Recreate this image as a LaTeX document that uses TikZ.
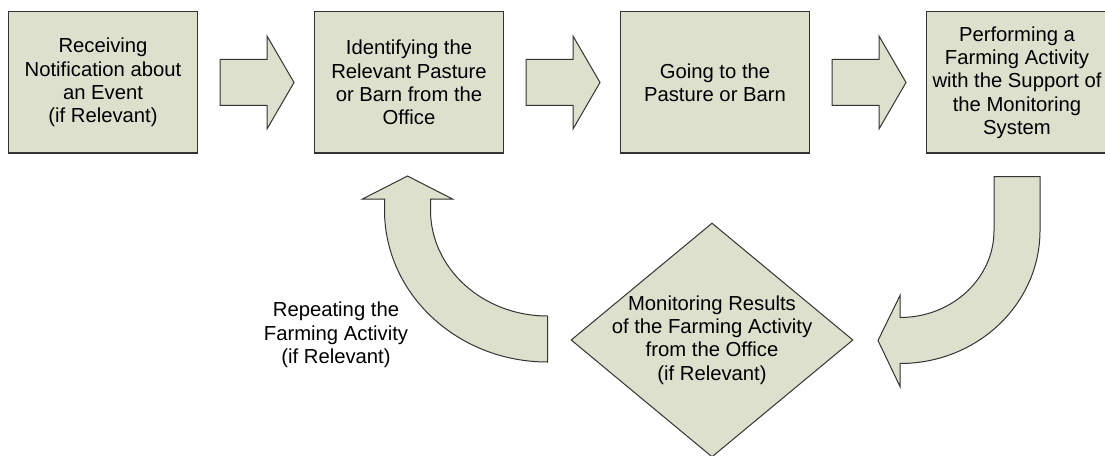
\documentclass[tikz,border=0pt]{standalone}
\usepackage{fontspec}
\setmainfont{Liberation Sans}
\usetikzlibrary{positioning,calc,shapes.geometric}
\definecolor{boxfill}{RGB}{221,224,205}
\definecolor{boxline}{RGB}{51,51,51}

\begin{document}
\begin{tikzpicture}[x=0.75pt, y=-0.75pt,
    font=\fontsize{15.2}{17.5}\selectfont,
    node distance=87pt,
    stepbox/.style={draw=boxline, fill=boxfill, line width=0.75pt, align=center,
      minimum width=141.75pt, minimum height=105.75pt, inner sep=1pt},
    checkbox/.style={diamond, draw=boxline, fill=boxfill, line width=0.75pt,
      aspect=1.2, inner sep=0pt, minimum width=211.5pt, minimum height=175.5pt},
    blockarrow/.style={draw=boxline, fill=boxfill, line width=0.75pt, line join=miter}
    ]
    \useasboundingbox (0,0) rectangle (1105,456);

    % the four steps in a row
    \node[stepbox] (recv) at (103,82.5) {Receiving\\Notification about\\an Event\\(if Relevant)};
    \node[stepbox, right=of recv] (ident) {Identifying the\\Relevant Pasture\\or Barn from the\\Office};
    \node[stepbox, right=of ident] (going) {Going to the\\Pasture or Barn};
    \node[stepbox, right=of going, minimum width=135.75pt] (perf) {Performing a\\Farming Activity\\with the Support of\\the Monitoring\\System};

    \foreach \a in {recv,ident,going}
      \draw[blockarrow] ($(\a.east)+(22,-23)$) -- ++(47,0) -- ++(0,-23.5) -- ++(27,46.5)
        -- ++(-27,46.5) -- ++(0,-23.5) -- ++(-47,0) -- cycle;

    % monitoring from the office
    \node[checkbox] (mon) at (712,340) {};
    \node[align=center] (montext) at (mon) {Monitoring Results\\of the Farming Activity\\from the Office\\(if Relevant)};

    \coordinate (down) at ($(perf.south)+(-23,23)$);
    \draw[blockarrow] (down) -- ++(46,0) -- ++(0,54)
      arc[start angle=0, end angle=90, x radius=140, y radius=133]
      -- ++(0,23) -- ++(-22,-46) -- ++(22,-45) -- ++(0,22)
      arc[start angle=90, end angle=0, x radius=94, y radius=87] -- cycle;

    % back to the office
    \coordinate (back) at ($(mon.west)+(-23,-24)$);
    \draw[blockarrow] (back) -- ++(0,46)
      arc[start angle=90, end angle=180, x radius=163, y radius=152]
      -- ++(0,-11) -- ++(-22,0) -- ++(45,-23) -- ++(45,23) -- ++(-22,0) -- ++(0,11)
      arc[start angle=180, end angle=90, x radius=117, y radius=106] -- cycle;
    \node[align=center] (rep) at (336,335) {Repeating the\\Farming Activity\\(if Relevant)};
  \end{tikzpicture}
\end{document}
